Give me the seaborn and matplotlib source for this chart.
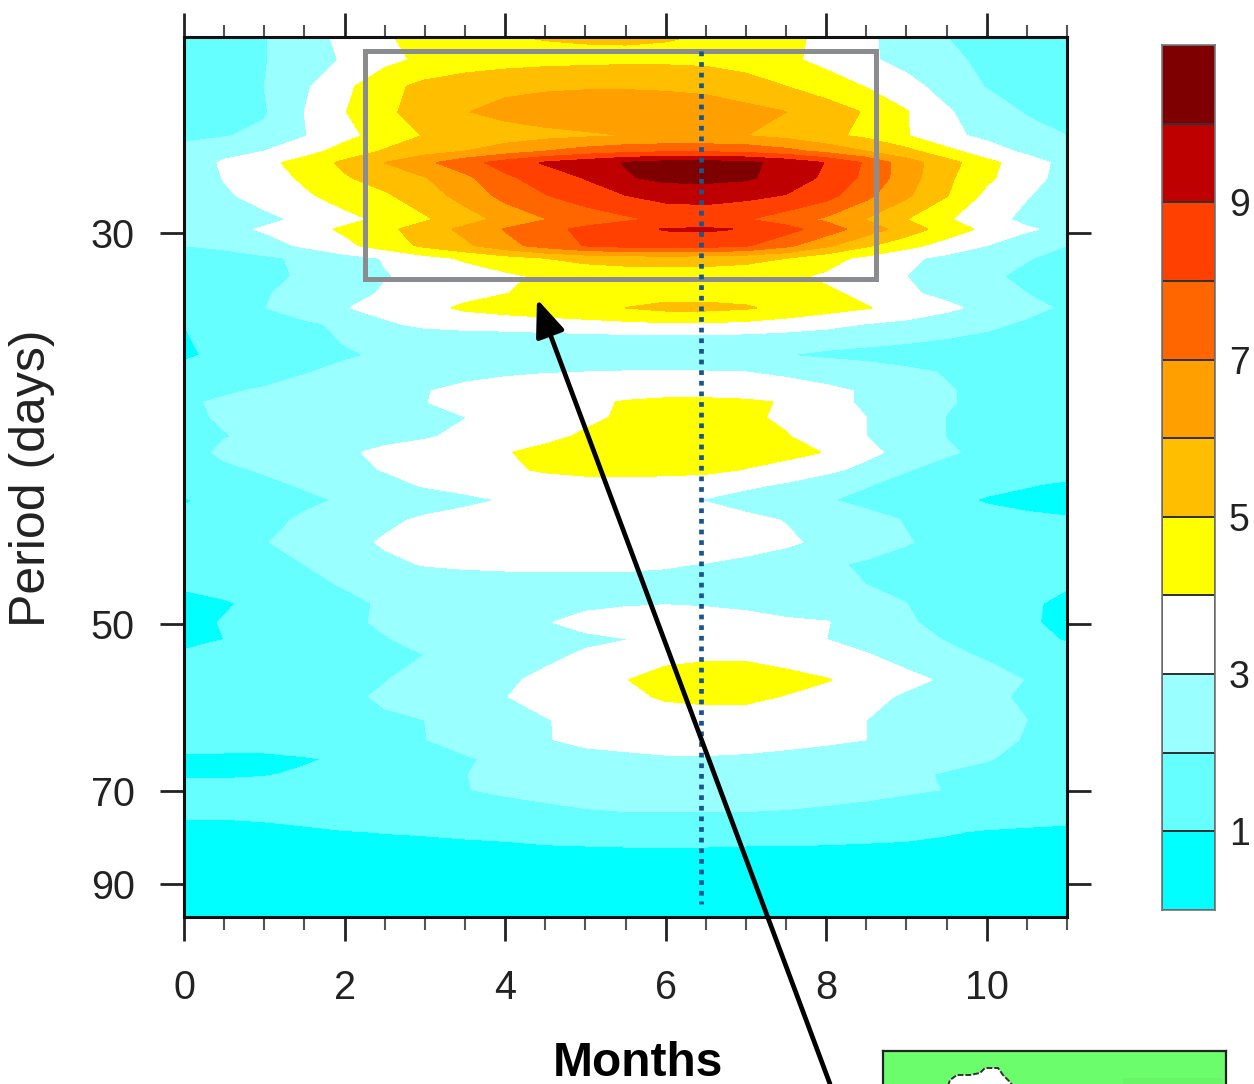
import numpy as np
import seaborn as sns
import matplotlib.pyplot as plt
from matplotlib.colors import ListedColormap
from matplotlib.patches import Rectangle
from matplotlib.ticker import FixedLocator, NullFormatter

W, H = 1254, 1084

months = [0, 0.5, 1, 1.5, 2, 2.5, 3, 3.5, 4, 4.5, 5, 5.5, 6, 6.5, 7, 7.5, 8, 8.5, 9, 9.5, 10, 10.5, 11]
periods = [25.0, 25.5, 26.1, 26.7, 27.3, 27.7, 28.0, 28.4, 28.9, 29.6, 29.9, 30.4, 30.8, 31.4, 32.0, 32.5,
           33.1, 33.7, 34.3, 35.0, 35.8, 36.3, 37.0, 37.9, 38.7, 39.6, 40.4, 41.3, 42.5, 43.9, 45.4, 46.9,
           48.3, 49.9, 51.4, 52.8, 55.3, 57.1, 59.8, 62.3, 65.0, 67.3, 69.7, 73.5, 77.4, 83.5, 100.0]

# one row per period, one column per month
power = [
    [1.4, 1.7, 1.95, 2.55, 3.25, 3.9, 4.3, 4.6, 4.95, 5.05, 5.1, 5.1, 5.05, 4.95, 4.7, 4.3, 3.7, 3.15, 2.6, 2.0, 1.7, 1.5, 1.4],
    [1.3, 1.65, 1.95, 2.5, 3.1, 3.7, 4.2, 4.5, 4.6, 4.7, 4.75, 4.8, 4.8, 4.75, 4.6, 4.2, 3.7, 3.15, 2.7, 2.2, 1.8, 1.5, 1.3],
    [1.4, 1.7, 2.0, 2.85, 3.75, 4.7, 5.25, 5.5, 5.75, 5.85, 5.9, 5.9, 5.85, 5.75, 5.4, 5.0, 4.5, 3.95, 3.3, 2.65, 1.95, 1.6, 1.4],
    [1.3, 1.6, 1.9, 3.0, 3.95, 4.8, 5.4, 5.95, 6.3, 6.5, 6.6, 6.65, 6.6, 6.5, 6.3, 6.0, 5.5, 4.9, 4.05, 3.1, 2.5, 1.9, 1.6],
    [1.85, 1.95, 2.2, 2.95, 3.7, 4.4, 5.05, 5.3, 5.5, 5.7, 5.85, 6.0, 6.05, 6.05, 6.0, 5.7, 5.2, 4.8, 4.05, 3.2, 2.8, 2.4, 2.0],
    [2.2, 2.6, 3.0, 3.6, 4.4, 5.1, 5.6, 6.0, 6.5, 7.0, 7.4, 7.7, 7.85, 7.85, 7.7, 7.3, 6.7, 6.0, 5.3, 4.3, 3.4, 2.8, 2.5],
    [2.3, 3.15, 3.7, 4.4, 5.2, 6.0, 6.75, 7.6, 8.4, 9.1, 9.55, 10.05, 10.35, 10.4, 10.2, 9.7, 8.95, 7.85, 6.45, 5.4, 4.3, 3.4, 2.7],
    [2.2, 3.05, 3.55, 4.15, 4.9, 5.45, 5.95, 6.75, 7.8, 8.45, 9.05, 9.9, 10.25, 10.3, 10.15, 9.6, 8.8, 7.75, 6.45, 5.2, 4.2, 3.3, 2.7],
    [2.15, 2.85, 3.35, 3.85, 4.4, 4.85, 5.55, 6.35, 7.3, 7.95, 8.5, 8.98, 9.35, 9.35, 9.25, 8.95, 8.35, 7.25, 6.15, 5.05, 3.75, 3.05, 2.6],
    [2.2, 2.45, 2.75, 3.2, 3.7, 4.2, 4.85, 5.55, 6.3, 6.95, 7.4, 7.8, 8.2, 8.4, 8.05, 7.45, 6.8, 5.95, 5.0, 4.1, 3.35, 2.75, 2.4],
    [2.4, 2.7, 3.1, 3.6, 4.15, 4.75, 5.45, 6.25, 7.05, 7.65, 8.25, 8.7, 9.05, 9.1, 8.95, 8.35, 7.5, 6.5, 5.55, 4.5, 3.75, 3.1, 2.75],
    [2.0, 2.15, 2.6, 3.15, 3.75, 4.45, 5.2, 5.8, 6.65, 7.4, 8.05, 8.35, 8.45, 8.4, 8.1, 7.25, 6.2, 5.15, 4.3, 3.6, 3.0, 2.5, 2.0],
    [1.6, 1.7, 1.85, 2.15, 2.65, 3.05, 3.65, 4.15, 4.6, 5.0, 5.3, 5.45, 5.5, 5.45, 5.3, 5.0, 4.35, 3.75, 3.2, 2.75, 2.4, 2.05, 1.75],
    [1.5, 1.6, 1.8, 2.1, 2.5, 2.95, 3.2, 3.45, 3.8, 4.15, 4.3, 4.4, 4.45, 4.45, 4.4, 4.2, 3.85, 3.4, 3.0, 2.55, 2.15, 1.8, 1.6],
    [1.5, 1.7, 1.95, 2.2, 2.65, 3.1, 3.4, 3.7, 3.98, 4.2, 4.35, 4.45, 4.6, 4.6, 4.55, 4.4, 4.15, 3.8, 3.15, 2.75, 2.35, 2.0, 1.7],
    [1.45, 1.75, 1.98, 2.4, 2.95, 3.3, 3.7, 4.15, 4.4, 4.6, 4.85, 5.0, 5.25, 5.25, 5.1, 4.7, 4.35, 4.05, 3.65, 3.2, 2.7, 2.25, 1.85],
    [1.0, 1.45, 1.7, 1.85, 2.15, 2.85, 3.2, 3.35, 3.4, 3.5, 3.6, 3.75, 3.85, 3.85, 3.75, 3.55, 3.3, 2.95, 2.75, 2.45, 2.2, 1.85, 1.6],
    [0.95, 1.2, 1.45, 1.7, 2.05, 2.25, 2.35, 2.4, 2.45, 2.5, 2.55, 2.55, 2.55, 2.5, 2.5, 2.4, 2.3, 2.2, 2.1, 1.95, 1.75, 1.55, 1.4],
    [0.9, 1.15, 1.4, 1.65, 1.9, 2.1, 2.2, 2.2, 2.25, 2.25, 2.25, 2.25, 2.25, 2.2, 2.1, 2.0, 1.85, 1.75, 1.65, 1.55, 1.45, 1.35, 1.3],
    [1.2, 1.4, 1.65, 1.95, 2.2, 2.4, 2.55, 2.7, 2.85, 2.95, 3.0, 3.05, 3.05, 3.05, 3.0, 2.8, 2.6, 2.4, 2.15, 1.95, 1.8, 1.6, 1.45],
    [1.55, 1.9, 2.1, 2.3, 2.5, 2.7, 2.95, 3.25, 3.45, 3.55, 3.65, 3.7, 3.75, 3.75, 3.7, 3.5, 3.2, 2.9, 2.4, 2.05, 1.85, 1.6, 1.4],
    [1.9, 2.1, 2.25, 2.4, 2.6, 2.8, 2.97, 3.3, 3.5, 3.7, 3.85, 4.05, 4.15, 4.15, 4.1, 3.95, 3.4, 2.8, 2.4, 2.05, 1.85, 1.6, 1.45],
    [1.8, 2.1, 2.3, 2.45, 2.65, 2.8, 2.92, 2.98, 3.3, 3.6, 3.85, 4.1, 4.25, 4.25, 4.15, 3.85, 3.45, 3.0, 2.45, 1.98, 1.8, 1.6, 1.45],
    [1.6, 1.95, 2.2, 2.4, 2.55, 2.7, 2.9, 3.2, 3.5, 3.8, 4.1, 4.3, 4.4, 4.4, 4.3, 4.05, 3.55, 3.0, 2.45, 1.98, 1.8, 1.6, 1.45],
    [1.55, 2.2, 2.4, 2.6, 2.85, 3.2, 3.4, 3.65, 3.95, 4.2, 4.35, 4.45, 4.55, 4.6, 4.5, 4.3, 3.95, 3.25, 2.65, 2.1, 1.8, 1.6, 1.45],
    [1.4, 1.8, 2.1, 2.4, 2.7, 3.05, 3.3, 3.55, 3.85, 4.1, 4.25, 4.3, 4.3, 4.25, 3.95, 3.6, 3.25, 2.7, 2.05, 1.7, 1.55, 1.4, 1.3],
    [1.3, 1.5, 1.8, 2.1, 2.35, 2.7, 3.1, 3.3, 3.5, 3.6, 3.65, 3.65, 3.55, 3.4, 3.2, 2.9, 2.4, 2.05, 1.75, 1.5, 1.3, 1.05, 0.9],
    [0.95, 1.2, 1.5, 1.8, 2.1, 2.3, 2.55, 2.8, 3.05, 3.1, 3.1, 3.1, 3.05, 2.95, 2.6, 2.3, 2.05, 1.8, 1.5, 1.25, 0.9, 0.8, 0.8],
    [1.1, 1.4, 1.7, 2.15, 2.55, 2.8, 3.15, 3.35, 3.5, 3.6, 3.65, 3.65, 3.6, 3.5, 3.25, 2.95, 2.6, 2.25, 1.95, 1.7, 1.4, 1.15, 1.05],
    [1.15, 1.55, 1.95, 2.3, 2.7, 3.1, 3.4, 3.55, 3.65, 3.75, 3.8, 3.8, 3.8, 3.7, 3.5, 3.2, 2.7, 2.35, 2.05, 1.75, 1.55, 1.35, 1.2],
    [1.3, 1.5, 1.75, 2.0, 2.4, 2.8, 3.05, 3.15, 3.2, 3.2, 3.2, 3.2, 3.1, 2.95, 2.7, 2.35, 2.1, 1.9, 1.7, 1.55, 1.45, 1.35, 1.2],
    [1.1, 1.35, 1.6, 1.8, 2.05, 2.25, 2.4, 2.5, 2.55, 2.6, 2.6, 2.6, 2.6, 2.5, 2.4, 2.25, 2.1, 2.0, 1.85, 1.65, 1.4, 1.2, 1.05],
    [0.75, 0.9, 1.25, 1.5, 1.8, 2.1, 2.3, 2.5, 2.7, 2.8, 2.85, 2.9, 2.95, 2.9, 2.8, 2.55, 2.3, 2.1, 2.0, 1.7, 1.4, 1.1, 0.85],
    [0.75, 1.05, 1.35, 1.6, 1.85, 2.1, 2.3, 2.55, 2.75, 2.95, 3.2, 3.4, 3.45, 3.4, 3.3, 3.15, 3.05, 2.5, 2.1, 1.75, 1.45, 1.1, 0.8],
    [0.9, 1.0, 1.3, 1.6, 1.8, 1.95, 2.2, 2.4, 2.55, 2.7, 2.85, 2.97, 3.4, 3.5, 3.5, 3.3, 3.0, 2.65, 2.3, 1.95, 1.6, 1.2, 0.95],
    [1.05, 1.2, 1.4, 1.55, 1.7, 1.85, 2.0, 2.3, 2.55, 2.8, 3.1, 3.5, 3.75, 3.85, 3.85, 3.6, 3.35, 3.05, 2.65, 2.25, 1.85, 1.5, 1.2],
    [1.25, 1.35, 1.5, 1.65, 1.8, 1.97, 2.25, 2.55, 2.85, 3.2, 3.55, 3.97, 4.3, 4.4, 4.4, 4.3, 4.05, 3.65, 3.25, 2.85, 2.45, 1.95, 1.6],
    [1.3, 1.4, 1.55, 1.7, 1.85, 2.1, 2.4, 2.7, 2.97, 3.3, 3.55, 3.8, 4.1, 4.2, 4.2, 3.95, 3.65, 3.3, 2.85, 2.5, 2.2, 1.85, 1.6],
    [1.3, 1.4, 1.5, 1.6, 1.75, 1.9, 2.0, 2.3, 2.65, 2.95, 3.25, 3.45, 3.55, 3.6, 3.55, 3.4, 3.2, 3.0, 2.75, 2.5, 2.25, 2.0, 1.75],
    [1.25, 1.3, 1.4, 1.5, 1.65, 1.8, 1.98, 2.3, 2.65, 2.95, 3.2, 3.3, 3.35, 3.4, 3.35, 3.25, 3.15, 3.0, 2.7, 2.45, 2.2, 1.95, 1.7],
    [0.9, 0.85, 0.8, 0.92, 1.1, 1.3, 1.6, 1.9, 2.2, 2.5, 2.7, 2.8, 2.9, 2.9, 2.85, 2.75, 2.6, 2.45, 2.3, 2.15, 2.05, 1.75, 1.5],
    [0.9, 0.9, 0.95, 1.1, 1.3, 1.55, 1.75, 1.98, 2.2, 2.4, 2.5, 2.55, 2.6, 2.6, 2.55, 2.45, 2.35, 2.2, 2.1, 1.95, 1.7, 1.55, 1.4],
    [1.25, 1.25, 1.3, 1.35, 1.45, 1.6, 1.8, 1.98, 2.1, 2.2, 2.3, 2.35, 2.35, 2.35, 2.35, 2.3, 2.25, 2.2, 2.1, 1.98, 1.8, 1.6, 1.45],
    [1.15, 1.15, 1.2, 1.25, 1.35, 1.45, 1.55, 1.65, 1.75, 1.85, 1.95, 2.0, 2.0, 2.0, 2.0, 1.97, 1.9, 1.8, 1.65, 1.55, 1.45, 1.35, 1.3],
    [0.75, 0.75, 0.8, 0.9, 0.98, 1.02, 1.05, 1.1, 1.15, 1.25, 1.3, 1.35, 1.35, 1.35, 1.3, 1.3, 1.25, 1.2, 1.15, 1.05, 0.95, 0.9, 0.85],
    [0.7, 0.7, 0.7, 0.7, 0.7, 0.7, 0.7, 0.7, 0.7, 0.7, 0.7, 0.7, 0.7, 0.7, 0.7, 0.7, 0.7, 0.7, 0.7, 0.7, 0.7, 0.7, 0.7],
    [0.3, 0.3, 0.3, 0.3, 0.3, 0.3, 0.3, 0.3, 0.3, 0.3, 0.3, 0.3, 0.3, 0.3, 0.3, 0.3, 0.3, 0.3, 0.3, 0.3, 0.3, 0.3, 0.3],
]

levels = list(range(12))
colors = ['#00ffff', '#66ffff', '#99ffff', '#ffffff', '#ffff00', '#ffbf00',
          '#ff9f00', '#ff6600', '#ff4000', '#bf0000', '#7f0000']
xticks = [0, 2, 4, 6, 8, 10]
xminor = np.arange(0, 11.5, 0.5)
yticks = [30, 50, 70, 90]
cbar_labels = ['9', '7', '5', '3', '1']

box_months = [2.25, 8.62]
box_periods = [25.3, 31.5]
dotted_month = 6.44
dotted_periods = [25.3, 95.8]


def axes_box(left, top, right, bottom):
    return [left / W, 1 - bottom / H, (right - left) / W, (bottom - top) / H]


sns.set_theme(style='ticks')
plt.rcParams['font.family'] = ['Liberation Sans', 'DejaVu Sans']
plt.rcParams['text.color'] = '#222222'

fig = plt.figure(figsize=(W / 100, H / 100), dpi=100, facecolor='white')
ax = fig.add_axes(axes_box(184, 37, 1067, 917))

# period axis is linear in frequency
ax.set_yscale('function', functions=(lambda p: -1.0 / p, lambda f: -1.0 / f))
cs = ax.contourf(months, periods, np.array(power), levels=levels, colors=colors)
cs.set_edgecolor('face')
cs.set_linewidth(0.4)
ax.set_xlim(0, 11)
ax.set_ylim(100, 25)

ax.set_xticks(xticks)
ax.set_xticks(xminor, minor=True)
ax.yaxis.set_major_locator(FixedLocator(yticks))
ax.yaxis.set_minor_locator(FixedLocator([]))
ax.set_yticklabels([str(t) for t in yticks])
ax.yaxis.set_minor_formatter(NullFormatter())
ax.tick_params(axis='x', which='major', length=17.5, width=2.0, top=True, bottom=True,
               direction='out', labelsize=28.5, pad=20, color='#222222', labelcolor='#222222')
ax.tick_params(axis='x', which='minor', length=9, width=1.5, top=True, bottom=True,
               direction='out', color='#555555')
ax.tick_params(axis='y', which='major', length=17.5, width=2.0, left=True, right=True,
               direction='out', labelsize=28.5, pad=18, color='#222222', labelcolor='#222222')
for s in ax.spines.values():
    s.set_linewidth(2.2)
    s.set_color('#111111')
    s.set_visible(True)

ax.add_patch(Rectangle((box_months[0], box_periods[0]), box_months[1] - box_months[0],
                       box_periods[1] - box_periods[0], fill=False, ec='#8a8c8f', lw=3.6, zorder=5))
ax.plot([dotted_month, dotted_month], dotted_periods, color='#1a5590', lw=3.4,
        linestyle=(0, (1, 1.25)), dash_capstyle='butt', zorder=6)

fig.text(32 / W, 1 - 478 / H, 'Period (days)', rotation=90, ha='center', va='center', fontsize=36, color='#222222')
fig.text(638 / W, 1 - 1063 / H, 'Months', ha='center', va='center', fontsize=34.5, fontweight='bold', color='black')

# colour bar
cax = fig.add_axes(axes_box(1162, 45, 1215, 910))
sns.heatmap(np.arange(10, -1, -1).reshape(-1, 1), ax=cax, cmap=ListedColormap(colors), vmin=-0.5, vmax=10.5,
            cbar=False, linewidths=1.2, linecolor='#333333', xticklabels=False)
cax.yaxis.tick_right()
cax.set_yticks([2, 4, 6, 8, 10])
cax.set_yticklabels(cbar_labels, rotation=0)
cax.tick_params(axis='y', length=0, labelsize=27, pad=10, labelcolor='#222222')
for s in cax.spines.values():
    s.set_visible(True)
    s.set_linewidth(1.2)
    s.set_color('#777777')

# cropped map panel at bottom right
map_ax = fig.add_axes(axes_box(883, 1051, 1226, 1084))
map_ax.set_facecolor('#6cfd6c')
map_ax.set_xticks([])
map_ax.set_yticks([])
map_ax.spines['bottom'].set_visible(False)
for name in ['top', 'left', 'right']:
    map_ax.spines[name].set_visible(True)
    map_ax.spines[name].set_linewidth(1.6)
    map_ax.spines[name].set_color('#222222')
map_ax.set_xlim(883, 1226)
map_ax.set_ylim(1084, 1051)
blob_x = [948, 950, 957, 970, 980, 985, 998, 1003, 1010, 1013]
blob_y = [1086, 1080, 1075, 1075, 1073, 1068, 1068, 1075, 1082, 1086]
map_ax.fill(blob_x, blob_y, facecolor='white', edgecolor='#333333', lw=1.4, linestyle=(0, (3, 1)))
map_ax.add_patch(Rectangle((1123, 1078), 100, 6, fc='#68f668', ec='none'))

# long arrow from the map up to the box
ax.annotate('', xy=(537, H - 299), xytext=(830, H - 1084), xycoords='figure pixels', textcoords='figure pixels',
            arrowprops=dict(arrowstyle='-|>,head_length=0.75,head_width=0.3', color='black', lw=3.4, mutation_scale=30,
                            shrinkA=0, shrinkB=0),
            annotation_clip=False, zorder=10)

fig.savefig('out.png', dpi=100, facecolor='white')
